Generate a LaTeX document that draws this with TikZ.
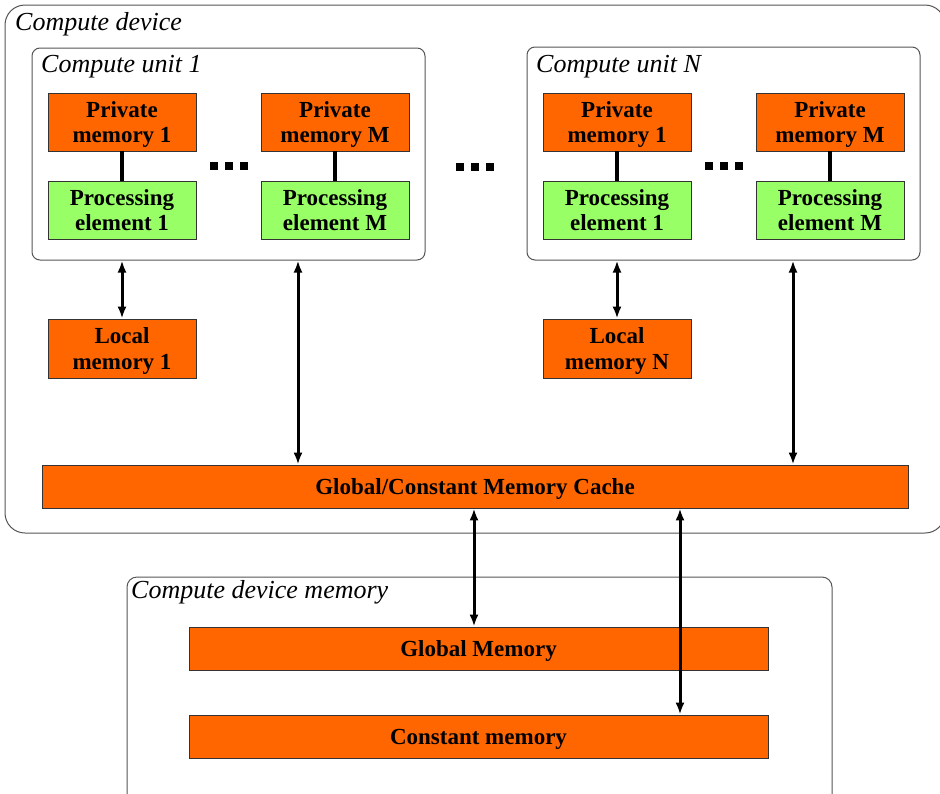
\documentclass[tikz,border=0pt]{standalone}
\usepackage{fontspec}
\setmainfont{Liberation Serif}
\usetikzlibrary{arrows.meta}
\definecolor{memorange}{HTML}{FF6600}
\definecolor{pegreen}{HTML}{99FF66}
\definecolor{framegray}{HTML}{555555}
\begin{document}
\begin{tikzpicture}[x=1pt,y=-1pt,
  blk/.style={draw=black!80, line width=0.8pt, inner sep=0pt, align=center,
              text depth=0pt, font=\fontsize{23}{25.5}\selectfont\bfseries},
  mem/.style={blk, fill=memorange},
  pe/.style={blk, fill=pegreen},
  small/.style={minimum width=148pt, minimum height=58pt},
  wide/.style={minimum width=579pt, minimum height=43pt},
  frm/.style={draw=framegray, line width=1pt, rounded corners=#1},
  frm/.default=8pt,
  lbl/.style={font=\fontsize{26}{29}\selectfont\itshape, anchor=base west, inner sep=0pt},
  link/.style={line width=4.5pt},
  arr/.style={line width=3pt, {Latex[length=12pt,width=9pt]}-{Latex[length=12pt,width=9pt]}},
  dot/.style={fill=black}
]
\useasboundingbox (0,0) rectangle (940,793);
\clip (0,0) rectangle (940,793);

% outer frames
\node[frm=20pt, minimum width=940pt, minimum height=528pt, inner sep=0pt] (dev) at (475,269) {};
\node[frm=10pt, minimum width=705pt, minimum height=228pt, inner sep=0pt] (devmem) at (479.5,691) {};
\node[lbl] (devlbl) at (15,30) {Compute device};
\node[lbl] (devmemlbl) at (131,598) {Compute device memory};

% compute unit frames
\node[frm, minimum width=393pt, minimum height=212pt, inner sep=0pt] (cu1) at (228.5,154) {};
\node[frm, minimum width=393pt, minimum height=213pt, inner sep=0pt] (cuN) at (723.5,153.5) {};
\node[lbl] (cu1lbl) at (41,72) {Compute unit 1};
\node[lbl] (cuNlbl) at (536,72) {Compute unit N};

% compute unit 1
\node[mem, small] (pa1) at (122,122) {Private\\memory 1};
\node[pe,  small] (ea1) at (122,210) {Processing\\element 1};
\node[mem, small] (paM) at (335,122) {Private\\memory M};
\node[pe,  small] (eaM) at (335,210) {Processing\\element M};
\node[mem, minimum width=148pt, minimum height=59pt] (la) at (122,348.5) {Local\\memory 1};

% compute unit N
\node[mem, small] (pb1) at (617,122) {Private\\memory 1};
\node[pe,  small] (eb1) at (617,210) {Processing\\element 1};
\node[mem, small] (pbM) at (830,122) {Private\\memory M};
\node[pe,  small] (ebM) at (830,210) {Processing\\element M};
\node[mem, minimum width=148pt, minimum height=59pt] (lb) at (617,348.5) {Local\\memory N};

% shared memories
\node[mem, minimum width=866pt, minimum height=43pt] (cache) at (475,486.5) {Global/Constant Memory Cache};
\node[mem, wide] (gmem) at (478.5,648.5) {Global Memory};
\node[mem, wide] (cmem) at (478.5,736.5) {Constant memory};

% private memory links
\draw[link] (pa1) -- (ea1);
\draw[link] (paM) -- (eaM);
\draw[link] (pb1) -- (eb1);
\draw[link] (pbM) -- (ebM);

% ellipsis dots
\foreach \x/\y in {210/162, 456/163, 705/162}{
  \foreach \k in {0,1,2}{
    \fill[dot] (\x+15*\k,\y) rectangle ++(7.5,7.5);
  }
}

% data paths
\coordinate (xa) at (298,0);
\coordinate (xb) at (793,0);
\coordinate (xg) at (474,0);
\coordinate (xc) at (680,0);
\draw[arr] (cu1.south -| la.north) -- (la.north);
\draw[arr] (cuN.south -| lb.north) -- (lb.north);
\draw[arr] (cu1.south -| xa) -- (cache.north -| xa);
\draw[arr] (cuN.south -| xb) -- (cache.north -| xb);
\draw[arr] (cache.south -| xg) -- (gmem.north -| xg);
\draw[arr] (cache.south -| xc) -- (cmem.north -| xc);
\end{tikzpicture}
\end{document}
